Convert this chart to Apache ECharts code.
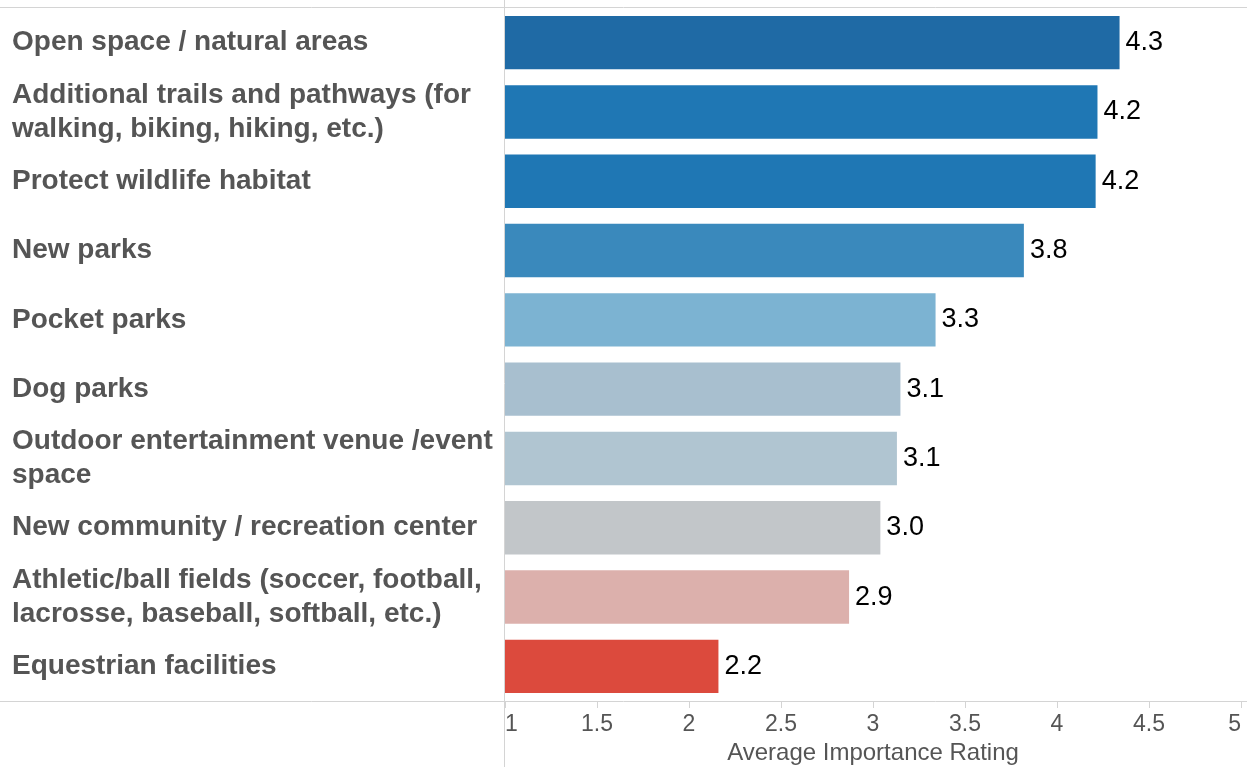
<!DOCTYPE html>
<html>
<head>
<meta charset="utf-8">
<script src="https://cdn.jsdelivr.net/npm/echarts@6/dist/echarts.min.js"></script>
<style>html,body{margin:0;padding:0;background:#fff;}#c{width:1247px;height:767px;}</style>
</head>
<body>
<div id="c"></div>
<script>
const categories = [
  "Open space / natural areas",
  "Additional trails and pathways (for\nwalking, biking, hiking, etc.)",
  "Protect wildlife habitat",
  "New parks",
  "Pocket parks",
  "Dog parks",
  "Outdoor entertainment venue /event\nspace",
  "New community / recreation center",
  "Athletic/ball fields (soccer, football,\nlacrosse, baseball, softball, etc.)",
  "Equestrian facilities"
];
const ratings = [4.34, 4.22, 4.21, 3.82, 3.34, 3.149, 3.13, 3.04, 2.87, 2.16];
const barColors = ["#1f6aa5", "#1f77b4", "#1f77b4", "#3a89bc", "#7cb3d2", "#a8bfcf", "#b0c5d1", "#c2c6c9", "#dcb0ac", "#dc4a3d"];
const axisTitle = "Average Importance Rating";

const chart = echarts.init(document.getElementById('c'), null, {renderer: 'canvas'});
chart.setOption({
  animation: false,
  grid: {left: 505, right: 6, top: 8, bottom: 66, containLabel: false, outerBoundsMode: 'none'},
  xAxis: {
    type: 'value', min: 1, max: 5, interval: 0.5,
    name: axisTitle, nameLocation: 'middle', nameGap: 40,
    nameTextStyle: {color: '#555', fontSize: 24, fontFamily: 'Liberation Sans'},
    axisLine: {show: false},
    axisTick: {show: true, length: 7, lineStyle: {color: '#d4d4d4'}},
    axisLabel: {color: '#555', fontSize: 23, fontFamily: 'Liberation Sans', margin: 12,
      alignMinLabel: 'left', alignMaxLabel: 'right', showMinLabel: true, showMaxLabel: true},
    splitLine: {show: false}
  },
  yAxis: {
    type: 'category', data: categories, inverse: true,
    axisLine: {show: false}, axisTick: {show: false},
    axisLabel: {color: '#555', fontSize: 28, fontWeight: 'bold', fontFamily: 'Liberation Sans',
      align: 'left', margin: 493, lineHeight: 34, padding: [3, 0, 0, 0]}
  },
  series: [{
    type: 'bar', clip: true, barCategoryGap: '23%',
    data: ratings.map((v, i) => ({value: v, itemStyle: {color: barColors[i]}})),
    label: {show: true, position: 'right', distance: 6, color: '#000', fontSize: 27,
      fontFamily: 'Liberation Sans', padding: [3, 0, 0, 0], formatter: p => p.value.toFixed(1)}
  }],
  graphic: [
    {type: 'line', shape: {x1: 0, y1: 7.5, x2: 1247, y2: 7.5}, style: {stroke: '#d4d4d4', lineWidth: 1}},
    {type: 'line', shape: {x1: 0, y1: 701.5, x2: 1247, y2: 701.5}, style: {stroke: '#d4d4d4', lineWidth: 1}},
    {type: 'line', shape: {x1: 504.5, y1: 0, x2: 504.5, y2: 767}, style: {stroke: '#d4d4d4', lineWidth: 1}}
  ]
});
</script>
</body>
</html>
